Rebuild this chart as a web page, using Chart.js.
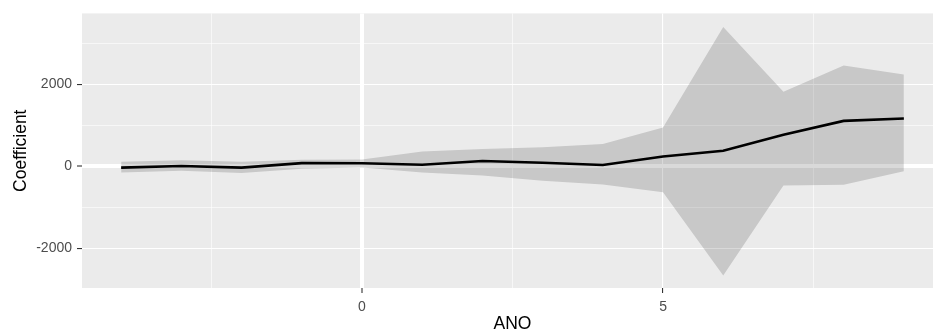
<!DOCTYPE html>
<html lang="en">
<head>
    <meta charset="UTF-8">
    <title>Coefficient by ANO</title>
    <script src="https://cdn.jsdelivr.net/npm/chart.js@4/dist/chart.umd.min.js"></script>
    <style>
      html, body { margin: 0; background: #fff; overflow: hidden; }
    </style>
</head>
<body>
<!-- the reference panel runs past the right edge, so the canvas is a little wider than the window -->
<canvas id="chart" width="943" height="333"></canvas>
<script>
  // values
  const anos = [-4, -3, -2, -1, 0, 1, 2, 3, 4, 5, 6, 7, 8, 9]
  const coef = [-30, 10, -30, 80, 75, 40, 130, 90, 35, 240, 380, 770, 1110, 1170]
  const upper = [110, 150, 110, 160, 170, 365, 425, 465, 545, 950, 3400, 1820, 2460, 2245]
  const lower = [-150, -110, -160, -60, -30, -150, -225, -350, -445, -630, -2665, -470, -450, -120]

  const xGrid = [-2.5, 0, 2.5, 5, 7.5]
  const xLabels = [0, 5]
  const yGrid = [-2000, -1000, 0, 1000, 2000, 3000]
  const yLabels = [-2000, 0, 2000]

  const pts = (ys) => anos.map((x, i) => ({ x: x, y: ys[i] }))

  const panelBg = {
    id: 'panelBg',
    beforeDraw(chart) {
      const { ctx, chartArea: a } = chart
      ctx.save()
      ctx.fillStyle = '#EBEBEB'
      ctx.fillRect(a.left, a.top, a.right - a.left, a.bottom - a.top)
      ctx.restore()
    }
  }

  const gridWidth = (labels) => (c) => {
    const v = c.tick ? c.tick.value : null
    if (v === 0) return 4
    return labels.includes(v) ? 1.1 : 0.6
  }
  const tickCol = (labels) => (c) => (c.tick && labels.includes(c.tick.value)) ? '#333333' : 'rgba(0,0,0,0)'

  new Chart(document.getElementById('chart'), {
    type: 'line',
    data: {
      datasets: [
        { data: pts(upper), fill: '+1', backgroundColor: 'rgba(0,0,0,0.15)', borderWidth: 0, pointRadius: 0 },
        { data: pts(lower), fill: false, borderWidth: 0, pointRadius: 0 },
        { data: pts(coef), fill: false, borderColor: '#000000', borderWidth: 2.6, pointRadius: 0, tension: 0 }
      ]
    },
    options: {
      responsive: false,
      animation: false,
      layout: { padding: { left: 0, top: 12, right: 0, bottom: 0 } },
      plugins: { legend: { display: false }, tooltip: { enabled: false } },
      scales: {
        x: {
          type: 'linear',
          min: -4.65,
          max: 9.65,
          afterBuildTicks: (s) => { s.ticks = xGrid.map(v => ({ value: v })) },
          afterFit: (s) => { s.height = 45 },
          border: { display: false },
          grid: { color: '#FFFFFF', lineWidth: gridWidth(xLabels), tickLength: 5, tickColor: tickCol(xLabels), tickWidth: 1.1 },
          ticks: {
            autoSkip: false, maxRotation: 0, padding: 6, color: '#4D4D4D',
            font: { family: 'Liberation Sans, Arial', size: 14 },
            callback: (v) => xLabels.includes(v) ? String(v) : ''
          },
          title: { display: true, text: 'ANO', color: '#000000', padding: { top: 0, bottom: 0 },
                   font: { family: 'Liberation Sans, Arial', size: 17.5, lineHeight: 1 } }
        },
        y: {
          min: -2970,
          max: 3735,
          afterBuildTicks: (s) => { s.ticks = yGrid.map(v => ({ value: v })) },
          afterFit: (s) => { s.width = 82 },
          border: { display: false },
          grid: { color: '#FFFFFF', lineWidth: gridWidth(yLabels), tickLength: 5, tickColor: tickCol(yLabels), tickWidth: 1.1 },
          ticks: {
            autoSkip: false, padding: 5, color: '#4D4D4D',
            font: { family: 'Liberation Sans, Arial', size: 14 },
            callback: (v) => yLabels.includes(v) ? String(v) : ''
          },
          title: { display: true, text: 'Coefficient', color: '#000000', padding: { top: 11, bottom: 0 },
                   font: { family: 'Liberation Sans, Arial', size: 17.5 } }
        }
      }
    },
    plugins: [panelBg]
  })
</script>
</body>
</html>
